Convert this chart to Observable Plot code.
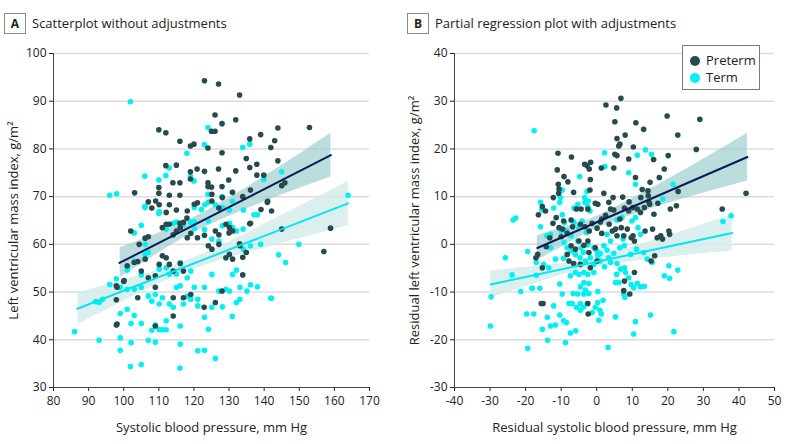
<!DOCTYPE html>
<html>
<head>
<meta charset="utf-8">
<script src="https://cdn.jsdelivr.net/npm/d3@7"></script>
<script src="https://cdn.jsdelivr.net/npm/@observablehq/plot@0.6"></script>
<style>
  body { margin: 0; background: #fff; font-family: "Open Sans", sans-serif; color: #222; }
  #wrap { position: relative; width: 787px; height: 444px; overflow: hidden; }
  .panel { position: absolute; top: 40px; }
  .tag { position: absolute; top: 13px; width: 20px; height: 19px; border: 1px solid #8a8a8a;
         font-weight: bold; font-size: 12px; text-align: center; line-height: 19px; }
  .title { position: absolute; top: 13px; font-size: 13px; line-height: 20px; }
  #legend { position: absolute; left: 682px; top: 45px; width: 76px; height: 43px; border: 1px solid #7a7a7a;
            background: #fff; font-size: 13px; }
  #legend .row { position: absolute; left: 7px; height: 16px; line-height: 16px; }
  #legend .dot { display: inline-block; width: 10px; height: 10px; border-radius: 50%; vertical-align: -1px; margin-right: 6px; }
</style>
</head>
<body>
<div id="wrap">
  <div class="tag" style="left:4px">A</div>
  <div class="title" style="left:32px">Scatterplot without adjustments</div>
  <div class="tag" style="left:407px">B</div>
  <div class="title" style="left:435px">Partial regression plot with adjustments</div>
  <div class="panel" id="pa" style="left:0px"></div>
  <div class="panel" id="pb" style="left:393px"></div>
  <div id="legend">
    <div class="row" style="top:6px"><span class="dot" style="background:#274b4d"></span>Preterm</div>
    <div class="row" style="top:23px"><span class="dot" style="background:#00f0f2"></span>Term</div>
  </div>
</div>
<script>
// ---------- Panel A: raw values ----------
const aTicksX = [80, 90, 100, 110, 120, 130, 140, 150, 160, 170];
const aTicksY = [30, 40, 50, 60, 70, 80, 90, 100];
const aPreterm = [
  [123,94.3],[127,93.6],[133,91.3],[126,87.1],[131.9,86.1],[128,85.3],[125,83.7],[126,83.7],[110,84],[112,83.4],
  [116,81.6],[119,80.6],[120,81],[124,80.2],[135.9,82.1],[139,83],[143.9,84.4],[152.9,84.5],[143,81.7],[141.9,80.3],
  [128,79.2],[134.9,78],[143.9,77.5],[137.9,76.8],[135.9,76.1],[112,76.5],[115,76.6],[119,75.2],[119,73.7],[120.9,75.8],
  [123,75.3],[127,75.8],[129.9,73.5],[131.9,75.4],[137.9,74.5],[139.9,74.5],[145,72.3],[145.9,72.9],[114,72.9],[116,72.9],
  [110,71.9],[110,70.7],[124,72.9],[124,72.1],[125,72],[128,72.1],[103.1,70.8],[113,70.3],[116,70.3],[133.9,70],
  [141,69],[107,68.9],[109.1,69.1],[131,70.9],[136.1,71.4],[125.1,69.1],[125.1,70.5],[128.1,69.8],
  [108,67.6],[110.1,68.3],[113,68.3],[115,67.2],[112.1,66.7],[118.1,67],[120.1,68.4],[121,68.7],[127.1,67.6],[139.1,67.3],
  [142.1,67],[136.1,64.4],[102,62.8],[104.4,60],[106.1,61.3],[107,61.6],[111,63.5],[112.1,64.2],[113,64.2],[114.1,62],
  [115,62.8],[116.1,63.5],[117,64.6],[118.1,61.4],[119.1,62.3],[121,61.4],[123,61.9],[126.1,62.8],[127.1,62],[129.1,64.2],
  [130.1,63.5],[131,62.8],[124.1,59.7],[125.1,59],[127.1,60],[129.1,57.2],[130.1,57.9],[131,56.9],[133.1,59.7],[101,55.5],
  [103,56.2],[105,54.4],[106.1,56.9],[107,53],[109,53.4],[110.1,55.8],[111,57.6],[112.1,57.2],[113,55.8],[114.1,54.4],
  [116.1,56],[117,54.4],[98.1,51],[100.1,52.4],[104,48.8],[109,51],[114.1,48.8],[117,48.8],[119.1,49.5],[98.1,43.3],
  [109,42.9],[114.1,45],[126.1,47.8],[118,65.5],[116,64.4],[158.9,63.4],[157,58.5],[145,63.2],[97.9,43.1],[122.9,46.8],
  [128,50.2],[134.9,58.3],[133.9,57.3],[133.9,53.6],[140.9,68.8],[135.9,64.3],[133,60.1],[130,62.4],[100,52.2],[97.9,51.3],
  [97.9,48.4],[104,56.4]
];
const aTerm = [
  [101.9,89.9],[124,84.5],[123,80.9],[135.9,81],[133.9,80.3],[118,79.1],[106,74.3],[110,73.5],[112,74.4],[113,76],
  [119,74.2],[120,73.3],[139.9,73.6],[145,75.2],[96,70.3],[98,70.6],[124,70.5],[128,70],[130.9,70.9],[163.9,70.3],
  [131,69],[128.2,67.7],[106.1,67.7],[110.1,66.8],[120.1,67.7],[122.1,67.3],[123.1,68.3],[124.1,68.8],[126.1,68.3],[130.1,67.2],
  [134.1,67.2],[137.1,66.2],[138.1,66.2],[134,63.2],[103,62.4],[105,64],[106.1,60],[107,58.3],[112.1,63.2],[114.1,64.4],
  [115,64.7],[117,64.1],[119.1,64.6],[120.1,64.8],[120.1,63.4],[123,63.1],[124.1,64.9],[125.1,61.1],[127.1,60.7],[128.1,63.9],
  [130.1,64.4],[131,63.5],[132.1,62.8],[133.1,59.9],[134.1,59],[136.1,59.7],[132.1,54.6],[101,54.6],[103,56.5],[106.1,57.9],
  [110.1,54.8],[112.1,55.1],[113,53.8],[115,53.8],[116.1,56.2],[92,48],[94,48.5],[96,51.6],[99,51],[101,50.6],
  [103,50.6],[105,51],[107,49.2],[108,48.1],[109,49.5],[110.1,47.5],[111,48.8],[113,47.5],[115,51],[116.1,51.3],
  [118.1,53],[119.1,54.4],[120.1,51],[121.1,48.5],[123,51],[125.1,53.7],[127.1,50.2],[129.1,50.6],[131,53.7],[133.1,51],
  [135.1,50.2],[136.1,51.5],[138.1,51.1],[142.1,48.7],[144.1,57.8],[146.1,56.2],[99,45.5],[101,46.4],[103,45.1],[102.1,43.4],
  [105,43.4],[108,42],[109,43.1],[110.1,42.1],[111,42.1],[112.1,44],[112.1,42.1],[114.1,46.8],[116.1,42.9],[117,47.5],
  [118.1,49.1],[119.1,48.5],[121.1,47.1],[123,44.7],[124.1,42.2],[125.1,46.8],[128.1,46.9],[130.1,50.2],[132.1,47.8],[133.1,48.5],
  [99,40.4],[93,39.9],[102.1,39.4],[107,39.9],[109,39.5],[116.1,39.1],[99,37.8],[121.1,37.7],[123,37.8],[126.1,36.1],
  [86,41.7],[101.9,34.4],[105,34.8],[116,34.1],[130.9,44.9],[141.9,48.7],[149.9,60],[139,60],[93,47.8],[101,55.2],
  [97.9,52.8],[105,53.6],[106,67.9],[110,66.5]
];
// fitted lines (endpoints) and confidence bands [x, lower, upper]
const aPretermFit = [[98.8, 56.1], [159, 78.7]];
const aTermFit = [[86.8, 46.5], [163.9, 68.6]];
const aPretermBand = [[99, 53.0, 59.3], [110, 58.2, 62.4], [122, 63.2, 66.4], [140, 68.9, 74.2], [159, 74.1, 83.3]];
const aTermBand = [[87, 43.25, 49.85], [100, 48.1, 52.5], [118, 54.2, 56.6], [140, 59.2, 64.2], [164, 63.95, 73.25]];

// ---------- Panel B: residuals ----------
const bTicksX = [-40, -30, -20, -10, 0, 10, 20, 30, 40, 50];
const bTicksY = [-30, -20, -10, 0, 10, 20, 30, 40];
const bPreterm = [
  [6.8,30.6],[2.6,29.2],[5.6,28.6],[5.1,25.7],[11,25.5],[13.2,24.1],[19.8,26.9],[29,26.2],[8,22.9],[5.7,22.2],
  [6.5,21],[6.2,20.6],[22.8,22.9],[28,19.9],[10.3,20.4],[-10.9,19.1],[-7.1,18.3],[5.1,18.9],[5.7,18.6],[9,17.9],
  [16,17.8],[20.1,18.6],[-3.4,16.8],[-2.7,16.5],[-1.7,17.2],[-2.1,15.8],[1.3,16],[4.8,16],[-11.1,15.6],[-9.2,14.2],
  [-8.1,13.1],[-1.8,13.6],[10.9,14],[15,13],[17.6,14],[19,15.8],[22.9,11.1],[42,10.7],[-10.8,12.6],[-10.6,11.6],
  [-10.7,10.7],[-6.5,10.9],[-1.9,11.4],[2,10.7],[4.6,9.8],[7.3,9.9],[12.8,11.5],[14.4,11.2],[14.5,10.2],[12.4,9.8],
  [-12.2,9.8],[-0.4,8.6],[0.3,8.4],[3.4,8.8],[9.1,8.9],[14.7,8.8],[17.2,8.6],
  [-5.7,7.4],[-4.4,7.4],[-2.5,7.4],[3.9,7.4],[4.8,7.2],[2.5,6.1],[1.4,5.3],[7.8,7.6],[9,7],[10.2,7.7],
  [11.4,7.4],[12.3,6.7],[13.4,7.7],[14.9,8.4],[16.1,6.3],[20.7,7.4],[22.4,8.1],[-14.4,7],[-15.3,7.9],[-16.4,6.2],
  [-12.3,4.4],[-11.4,5.6],[-10.6,3.5],[-9.3,4.9],[-9.6,3.2],[-7.2,5.1],[-4.6,4.2],[-6.8,3.7],[-3.3,3.7],[-1.3,4.4],
  [-2.1,2.8],[0.1,3.4],[1,4.7],[1.4,2.3],[3.5,4.2],[4.4,2.8],[5.7,1.8],[5.3,3.2],[6.5,5.3],[6.9,3.5],
  [7.6,1.8],[8.6,3.2],[9.7,1.4],[10.2,1.8],[10.6,0.7],[13.6,2.8],[15.7,3.2],[17,1.4],[18,1.8],[18.5,1.1],
  [20.3,2.8],[20.5,2.1],[-17.1,-2.8],[-16.6,-2.1],[-15.3,-4.9],[-14.2,-0.5],[-13.2,1.4],[-10,1.6],[-8.3,2.3],[-7.2,-0.3],
  [-6,-1],[-8.3,-2.1],[-5,0.7],[-3.6,-0.2],[-2.5,0.7],[-2.2,-1.7],[-0.4,-0.7],[-7.8,-3.5],[-6.5,-4],[10.6,-5.9],
  [7.8,-7.7],[7.6,-9.7],[9.3,-10.4],[-15.6,-12.4],[-15.1,-12.4],[-2.4,-14.6],[-2.5,-12.4],[-4.6,-4.2],[-1.8,-4.9],[0.1,-3.5],
  [35.3,7.4],[16.3,-2.4],[15.3,-3.5]
];
const bTerm = [
  [-17.6,23.8],[2.2,19.2],[13.7,19.8],[11.4,18.7],[15.4,18.9],[2.3,16.3],[-4.8,14.2],[9,15],[10.9,12.6],[21.5,12.6],
  [-9.7,11.4],[-2.7,11.1],[-10.2,9.8],[-10.4,8.8],[-15.8,8.8],[-3.4,9.8],[-3.3,8.8],[-2.4,9.1],[18.6,9.5],
  [-23.5,5.1],[-22.8,5.5],[-25.7,-2.8],[-23.8,-6.4],[-21.4,-9.9],[-19.7,-14.6],[-17.7,-14.6],[-19.4,-21.8],[-13.8,-20.1],[-8.8,-20.6],
  [3.2,-21.6],[-15.8,3.7],[-19.4,-1.5],[-17,-6.5],[-18.1,-9.2],[-14.9,-4.2],[-13.5,-4.9],[-11.6,-3.1],[-9.3,-2.9],[-10.4,-8.3],
  [-9.7,-10.4],[-13.9,-15.3],[-13,-17.1],[-11.6,-16.9],[-15.3,-17.8],[-12.1,-12.9],[-10.4,-14.8],[-9.3,-16],[-8.5,-16.4],[-7.4,-18.6],
  [-5.9,-18.1],[-7.8,-12.4],[-6.9,-12.4],[-5.7,-13.2],[-4.6,-12.4],[-6.6,-10.3],[-5.3,-10.4],[-3.6,-10.4],[-2.2,-10.3],[-4.6,-13.8],
  [-3.8,-13.2],[-2.7,-12.4],[-1.3,-14.3],[-0.4,-13.2],[0.3,-12.2],[0.9,-13.8],[1.3,-14.6],[0.6,-15.9],[1.8,-11.7],[5.3,-15.2],
  [10.9,-16.2],[10.4,-18.8],[15.1,-14.8],[21.7,-18.3],
  [-9.2,0.4],[-8.3,-0.7],[-7.2,-1.4],[-6,-2.1],[-4.7,-2.8],[-3.8,-1.7],[-3.2,-3.5],[-1.8,-2.8],[-0.8,-4.2],[0.3,-2.4],
  [1,-3.5],[2.2,-4.7],[3.4,-2.8],[3.9,-3.8],[5.7,-4],[6.7,-5.2],[7.8,-4.9],[5.6,-6.3],[8.1,-5.9],[9,-7],
  [9.7,-8.4],[10.4,-9.1],[11.4,-8.2],[12.3,-8.9],[13.4,-8.8],[5.3,-8],[6.2,-8],[7.6,-10.4],[7.9,-11.1],[-3.6,-5.9],
  [-2.5,-6.3],[-0.8,-5.9],[-6,-5.9],[-5,-6.3],[-7.4,-6.6],[-3.6,-8],[-2.2,-8.2],[-4.6,-8.9],[-3.2,-9.6],[0.3,-9.9],
  [-15.4,7.2],[-12.1,7.6],[-9.7,6.2],[-6.4,7.6],[-5.3,8.4],[-2.5,7.9],[-1.9,7],[-4.1,4.9],[-6.4,4.6],[-9.1,4.6],
  [-5,3.5],[-2.9,2.5],[-7.2,1.8],[-8.5,2.8],[-10,2.8],[-13,2.1],[-14,1.8],[-13,-0.7],[-17,-3.8],[-5.3,0.7],
  [-4.4,-0.7],[-2.5,-0.1],[-0.8,-0.7],[0.1,-1.5],[1,-1.9],[2,-0.3],[2.9,-1.2],[3.9,0.7],[4.8,-1.9],[6.5,-0.7],
  [7.4,1.1],[7.8,-0.3],[9.5,-2.1],[11.2,-1],[13.2,-1.7],[14.2,-3.1],[15.6,-3.8],[11.6,3.5],[12.3,2.1],[9.9,4.9],
  [10.9,5.6],[7.1,5.6],[5.7,5.1],[2.9,2.1],[20.3,-4.5],[22.8,-5.4],[19,-6.6],[20.5,-7.1],
  [-29.7,-11],[-29.9,-17.1],[-18.2,-9.2],[-16,-9.2],[35.5,4.8],[37.8,6]
];
const bPretermFit = [[-16.7, -0.77], [42.4, 18.3]];
const bTermFit = [[-29.8, -8.4], [38.1, 2.4]];
const bPretermBand = [[-16.7, -3.37, 1.83], [-5, 1.45, 4.55], [2, 3.97, 6.57], [20, 8.58, 13.58], [42.4, 13.3, 23.3]];
const bTermBand = [[-29.8, -11.2, -5.6], [-15, -7.65, -4.45], [-1.5, -4.9, -2.9], [20, -2.71, 1.75], [38.1, -1.4, 6.2]];

// ---------- styling ----------
const colPreterm = "#274b4d";
const colTerm = "#00f0f2";
const colPretermLine = "#0c1a5a";
const colTermLine = "#00e6ee";
const colPretermBand = "#9fcfd0";
const colTermBand = "#d6ecec";

function panel(opts) {
  const {xDomain, yDomain, xTicks, yTicks, xLabel, yLabel, pre, term, preFit, termFit, preBand, termBand,
         width, marginLeft, marginRight} = opts;
  return Plot.plot({
    width, height: 404, marginLeft, marginRight, marginTop: 13, marginBottom: 57,
    style: {fontFamily: "Open Sans", fontSize: "12px", color: "#222", background: "transparent"},
    x: {domain: xDomain, ticks: xTicks, tickSize: 4, tickPadding: 5, tickFormat: d => String(d), label: null},
    y: {domain: yDomain, ticks: yTicks, tickSize: 4, tickPadding: 3, tickFormat: d => String(d), label: null},
    marks: [
      Plot.ruleY(yTicks.slice(1), {stroke: "#dcdcdc", strokeWidth: 1.5}),
      Plot.areaY(termBand, {x: d => d[0], y1: d => d[1], y2: d => d[2], fill: colTermBand, fillOpacity: 0.85, curve: "natural"}),
      Plot.areaY(preBand, {x: d => d[0], y1: d => d[1], y2: d => d[2], fill: colPretermBand, fillOpacity: 0.7, curve: "natural"}),
      Plot.dot(term, {x: d => d[0], y: d => d[1], r: 2.8, fill: colTerm}),
      Plot.dot(pre, {x: d => d[0], y: d => d[1], r: 2.8, fill: colPreterm}),
      Plot.line(termFit, {x: d => d[0], y: d => d[1], stroke: colTermLine, strokeWidth: 2}),
      Plot.line(preFit, {x: d => d[0], y: d => d[1], stroke: colPretermLine, strokeWidth: 2}),
      Plot.ruleX([xDomain[0]], {stroke: "#444", strokeWidth: 1}),
      Plot.ruleY([yDomain[0]], {stroke: "#444", strokeWidth: 1}),
      Plot.text([xLabel], {frameAnchor: "bottom", dy: 44, fontSize: 13, fill: "#222", textAnchor: "middle"}),
      Plot.text([yLabel], {frameAnchor: "left", rotate: -90, dx: -40, fontSize: 13, fill: "#222", textAnchor: "middle"})
    ]
  });
}

document.getElementById("pa").appendChild(panel({
  xDomain: [80, 170], yDomain: [30, 100], xTicks: aTicksX, yTicks: aTicksY,
  xLabel: "Systolic blood pressure, mm Hg", yLabel: "Left ventricular mass index, g/m²",
  pre: aPreterm, term: aTerm, preFit: aPretermFit, termFit: aTermFit, preBand: aPretermBand, termBand: aTermBand,
  width: 393, marginLeft: 53, marginRight: 24
}));
document.getElementById("pb").appendChild(panel({
  xDomain: [-40, 50], yDomain: [-30, 40], xTicks: bTicksX, yTicks: bTicksY,
  xLabel: "Residual systolic blood pressure, mm Hg", yLabel: "Residual left ventricular mass index, g/m²",
  pre: bPreterm, term: bTerm, preFit: bPretermFit, termFit: bTermFit, preBand: bPretermBand, termBand: bTermBand,
  width: 394, marginLeft: 61, marginRight: 13
}));
</script>
</body>
</html>
